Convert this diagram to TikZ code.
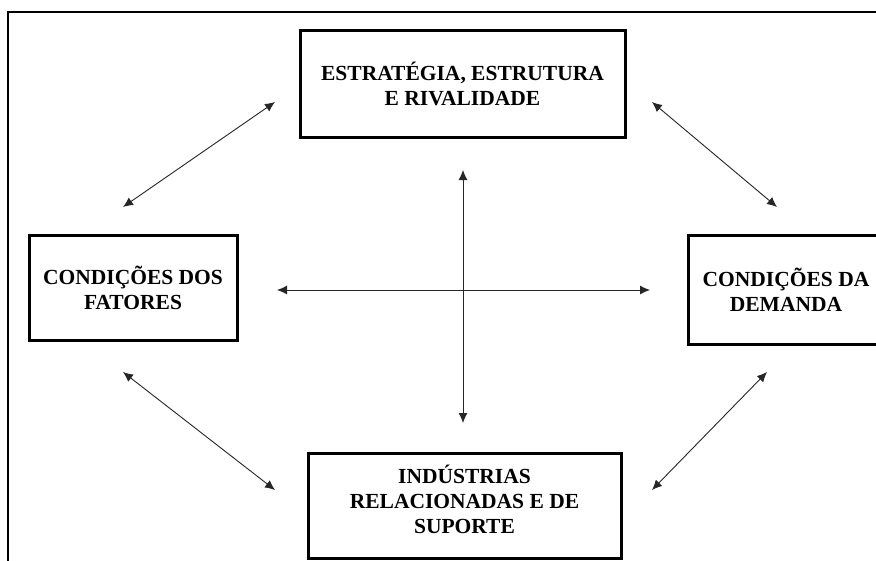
\documentclass[tikz,border=0pt]{standalone}
\usepackage{fontspec}
\setmainfont{Liberation Serif}
\usetikzlibrary{arrows.meta,positioning}
\tikzset{
  caixa/.style={draw, line width=3pt, inner sep=0pt, align=center,
    font=\bfseries\fontsize{21.5}{25}\selectfont},
  texto/.style={inner sep=0pt, align=center,
    font=\bfseries\fontsize{21.5}{25}\selectfont},
  seta/.style={<->, line width=0.9pt, draw=black!85},
  >={Latex[length=10pt,width=9pt]}
}
\begin{document}
\begin{tikzpicture}[x=1pt,y=-1pt]
          \clip (0,0) rectangle (876,560);
          \fill[white] (0,0) rectangle (876,560);
          \draw[line width=1.5pt] (8,575) -- (8,12) -- (890,12);

          \node[caixa, minimum width=325, minimum height=107] (estr) at (462.5,83.5) {ESTRAT\'EGIA, ESTRUTURA\\E RIVALIDADE};
          \node[caixa, minimum width=208, minimum height=105] (fat) at (133,287.5) {CONDI\c{C}\~OES DOS\\FATORES};
          \node[caixa, minimum width=196, minimum height=109] (dem) at (786,289.5) {CONDI\c{C}\~OES DA\\DEMANDA};
          \node[caixa, minimum width=313, minimum height=105] (ind) at (464.5,505.5) {};
          \node[texto] (indtx) at (464.5,499) {IND\'USTRIAS\\RELACIONADAS E DE\\SUPORTE};

          \coordinate (tl1) at (123,207);
          \coordinate (tl2) at (275,102);
          \coordinate (tr1) at (652,102);
          \coordinate (tr2) at (777,207);
          \coordinate (bl1) at (123,372);
          \coordinate (bl2) at (275,490);
          \coordinate (br1) at (652,490);
          \coordinate (br2) at (767,372);
          \coordinate (h1) at (277,290);
          \coordinate (h2) at (650,290);
          \coordinate (v1) at (463,170);
          \coordinate (v2) at (463,423);

          \draw[seta] (tl1) -- (tl2);
          \draw[seta] (tr1) -- (tr2);
          \draw[seta] (bl1) -- (bl2);
          \draw[seta] (br1) -- (br2);
          \draw[seta] (h1) -- (h2);
          \draw[seta] (v1) -- (v2);
\end{tikzpicture}
\end{document}
